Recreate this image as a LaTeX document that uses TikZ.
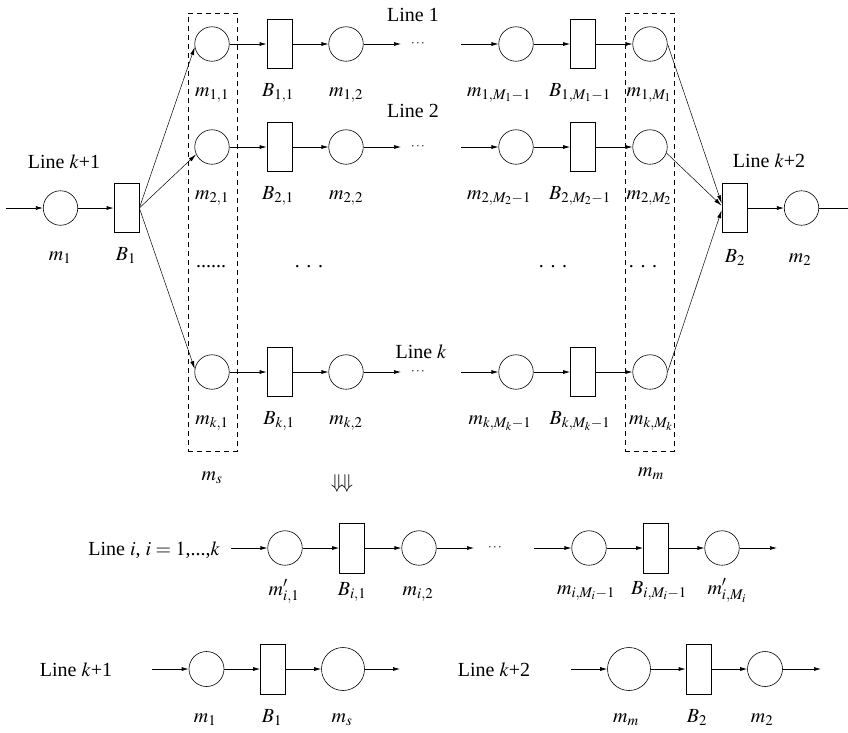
\documentclass[tikz,border=0pt]{standalone}
\usepackage{mathptmx}
\usepackage{fontspec}
\setmainfont{Liberation Serif}
\usetikzlibrary{arrows.meta}
\begin{document}
\begin{tikzpicture}[x=1pt,y=-1pt,
  font=\fontsize{20}{23}\selectfont,
  circ/.style={draw, circle, minimum size=34.5pt, inner sep=0pt, line width=0.6pt},
  bigc/.style={circ, minimum size=43pt},
  buf/.style={draw, rectangle, minimum width=25pt, minimum height=49pt, inner sep=0pt, line width=0.7pt},
  lab/.style={anchor=base, inner sep=0pt},
  flow/.style={-{Latex[length=7pt,width=4pt]}, line width=0.7pt},
  feed/.style={-{Latex[length=8pt,width=4pt]}, line width=0.5pt},
  grp/.style={draw, dash pattern=on 5pt off 4pt, line width=0.7pt, inner sep=0pt, minimum width=49pt, minimum height=438pt},
  smalldots/.style={font=\fontsize{13}{15}\selectfont, inner sep=0pt}]
\useasboundingbox (0,0) rectangle (848,732);

% dashed groups
\node[grp] (gs) at (212.5,232) {};
\node[grp] (gm) at (649.5,232) {};

% main line k+1 and k+2
\coordinate (in0) at (6,208);
\node[circ] (m1) at (60.5,208) {};
\node[buf] (B1) at (126.5,208) {};
\node[buf] (B2) at (734.5,208) {};
\node[circ] (m2) at (801.5,208) {};
\coordinate (out0) at (848,208);
\draw[flow] (in0) -- (m1);
\draw[flow] (m1) -- (B1);
\draw[flow] (B2) -- (m2);
\draw[line width=0.7pt] (m2) -- (out0);
\node[lab] (lm1) at (60,260) {$m_1$};
\node[lab] (lB1) at (126,260) {$B_1$};
\node[lab] (lB2) at (735,262) {$B_2$};
\node[lab] (lm2) at (800,262) {$m_2$};
\node[lab] (Lk1) at (64,168) {Line $k$+1};
\node[lab] (Lk2) at (769,167) {Line $k$+2};

% rows
\foreach \rw/\y in {a/44, b/147, c/372} {
  \node[circ] (\rw1) at (212,\y) {};
  \node[buf] (\rw B1) at (279.5,\y) {};
  \node[circ] (\rw2) at (346,\y) {};
  \coordinate (\rw e) at (401,\y);
  \node[smalldots] (\rw d) at (418,\y) {$\cdots$};
  \coordinate (\rw s) at (461,\y);
  \node[circ] (\rw3) at (516,\y) {};
  \node[buf] (\rw B3) at (583,\y) {};
  \node[circ] (\rw4) at (650,\y) {};
  \draw[flow] (\rw1) -- (\rw B1);
  \draw[flow] (\rw B1) -- (\rw2);
  \draw[flow] (\rw2) -- (\rw e);
  \draw[flow] (\rw s) -- (\rw3);
  \draw[flow] (\rw3) -- (\rw B3);
  \draw[flow] (\rw B3) -- (\rw4);
}

% row labels
\node[lab] (la1) at (212,96) {$m_{1,1}$};
\node[lab] (laB1) at (278,96) {$B_{1,1}$};
\node[lab] (la2) at (346,96) {$m_{1,2}$};
\node[lab] (la3) at (499,96) {$m_{1,M_1-1}$};
\node[lab] (laB3) at (580,96) {$B_{1,M_1-1}$};
\node[lab] (la4) at (649,96) {$m_{1,M_1}$};

\node[lab] (lb1) at (212,199) {$m_{2,1}$};
\node[lab] (lbB1) at (278,199) {$B_{2,1}$};
\node[lab] (lb2) at (346,199) {$m_{2,2}$};
\node[lab] (lb3) at (499,199) {$m_{2,M_2-1}$};
\node[lab] (lbB3) at (580,199) {$B_{2,M_2-1}$};
\node[lab] (lb4) at (649,199) {$m_{2,M_2}$};

\node[lab] (lc1) at (212,424) {$m_{k,1}$};
\node[lab] (lcB1) at (279,424) {$B_{k,1}$};
\node[lab] (lc2) at (346,424) {$m_{k,2}$};
\node[lab] (lc3) at (500,424) {$m_{k,M_k-1}$};
\node[lab] (lcB3) at (580,424) {$B_{k,M_k-1}$};
\node[lab] (lc4) at (651,424) {$m_{k,M_k}$};

\node[lab] (L1) at (413,21) {Line 1};
\node[lab] (L2) at (413,117) {Line 2};
\node[lab] (Lk) at (421,358) {Line $k$};

% fan in / fan out
\draw[feed] (B1.east) -- (a1.190);
\draw[feed] (B1.east) -- (b1.205);
\draw[feed] (B1.east) -- (c1.170);
\draw[feed] (a4.east) -- (B2.160);
\draw[feed] (b4.-20) -- (B2.170);
\draw[feed] (c4.east) -- (B2.190);

% vertical dots
\node[lab] (v1) at (211,267) {......};
\node[lab] (v2) at (309,267) {. . .};
\node[lab] (v3) at (553,267) {. . .};
\node[lab] (v4) at (643,267) {. . .};

\node[lab] (ms) at (212,480) {$m_s$};
\node[lab] (mm) at (651,476) {$m_m$};
\node (dd) at (342,483) {$\Downarrow\!\Downarrow$};

% line i
\node[lab, anchor=base east] (Li) at (220,555) {Line $i$, $i = 1$,...,$k$};
\coordinate (i0) at (231,548);
\node[circ] (i1) at (285,548) {};
\node[buf, minimum height=50pt] (iB1) at (352,548) {};
\node[circ] (i2) at (419,548) {};
\coordinate (ie) at (474,548);
\node[smalldots] (id) at (495,548) {$\cdots$};
\coordinate (is) at (534,548);
\node[circ] (i3) at (589,548) {};
\node[buf, minimum height=50pt] (iB3) at (656,548) {};
\node[circ] (i4) at (722,548) {};
\coordinate (iz) at (777,548);
\draw[flow] (i0) -- (i1);
\draw[flow] (i1) -- (iB1);
\draw[flow] (iB1) -- (i2);
\draw[flow] (i2) -- (ie);
\draw[flow] (is) -- (i3);
\draw[flow] (i3) -- (iB3);
\draw[flow] (iB3) -- (i4);
\draw[flow] (i4) -- (iz);
\node[lab] (li1) at (284,595) {$m'_{i,1}$};
\node[lab] (liB1) at (352,595) {$B_{i,1}$};
\node[lab] (li2) at (418,595) {$m_{i,2}$};
\node[lab] (li3) at (586,594) {$m_{i,M_i-1}$};
\node[lab] (liB3) at (659,594) {$B_{i,M_i-1}$};
\node[lab] (li4) at (727,594) {$m'_{i,M_i}$};

% line k+1 (bottom)
\node[lab] (Lb1) at (76,676) {Line $k$+1};
\coordinate (p0) at (152,669);
\node[circ, minimum size=35pt] (p1) at (206.5,669) {};
\node[buf, minimum height=50pt] (pB) at (273,669) {};
\node[bigc] (p2) at (343,669) {};
\coordinate (pz) at (400,669);
\draw[flow] (p0) -- (p1);
\draw[flow] (p1) -- (pB);
\draw[flow] (pB) -- (p2);
\draw[flow] (p2) -- (pz);
\node[lab] (lp1) at (205,722) {$m_1$};
\node[lab] (lpB) at (272,722) {$B_1$};
\node[lab] (lp2) at (342,722) {$m_s$};

% line k+2 (bottom)
\node[lab] (Lb2) at (494,676) {Line $k$+2};
\coordinate (q0) at (571,669);
\node[bigc] (q1) at (629,669) {};
\node[buf, minimum height=50pt] (qB) at (698.5,669) {};
\node[circ, minimum size=35pt] (q2) at (765,669) {};
\coordinate (qz) at (821,669);
\draw[flow] (q0) -- (q1);
\draw[flow] (q1) -- (qB);
\draw[flow] (qB) -- (q2);
\draw[flow] (q2) -- (qz);
\node[lab] (lq1) at (626,722) {$m_m$};
\node[lab] (lqB) at (697,722) {$B_2$};
\node[lab] (lq2) at (762,722) {$m_2$};
\end{tikzpicture}
\end{document}
